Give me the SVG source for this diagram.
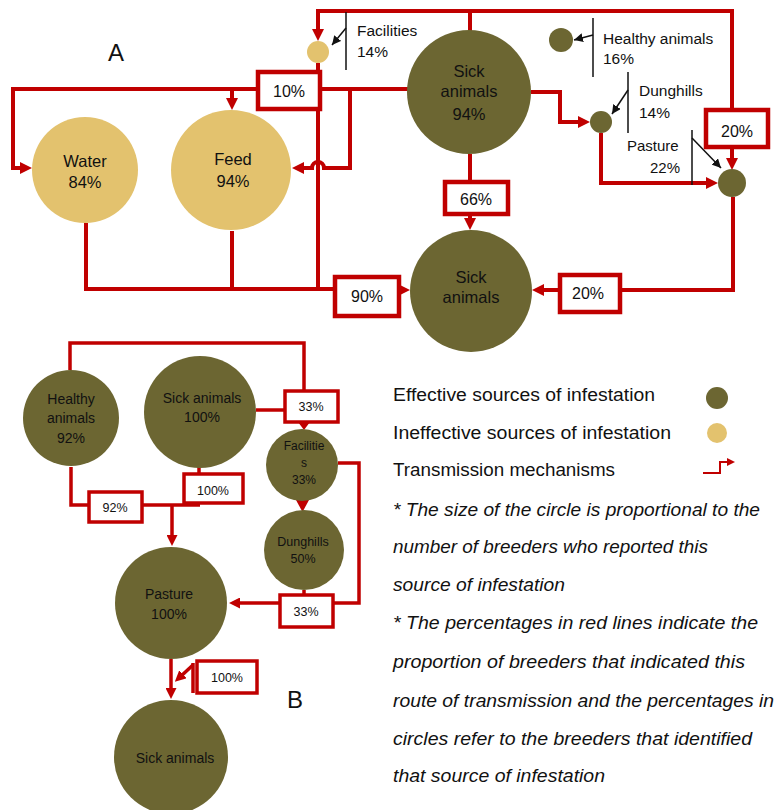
<svg xmlns="http://www.w3.org/2000/svg" width="775" height="810" viewBox="0 0 775 810">
<style>
.t{font-family:"Liberation Sans",Arial,sans-serif;fill:#111}
.c{text-anchor:middle}
.eff{fill:#6C6632}
.ine{fill:#E3C26E}
.ln{fill:none;stroke:#C00000;stroke-width:4;stroke-linejoin:miter}
.lnb{fill:none;stroke:#C00000;stroke-width:3.5}
.bx{fill:#fff;stroke:#C00000;stroke-width:4.5}
.bxb{fill:#fff;stroke:#C00000;stroke-width:3.5}
.blk{fill:none;stroke:#111;stroke-width:1.5}
.it{font-family:"Liberation Sans",Arial,sans-serif;font-style:italic;font-size:17.5px;fill:#111}
.lg{font-family:"Liberation Sans",Arial,sans-serif;font-size:17.5px;fill:#111}
</style>
<defs>
<marker id="ar" markerUnits="userSpaceOnUse" markerWidth="12" markerHeight="12" refX="4" refY="6" orient="auto"><path d="M0,0 L12,6 L0,12z" fill="#C00000"/></marker>
<marker id="arb" markerUnits="userSpaceOnUse" markerWidth="11" markerHeight="11" refX="4" refY="5.5" orient="auto"><path d="M0,0 L11,5.5 L0,11z" fill="#C00000"/></marker>
<marker id="ak" markerUnits="userSpaceOnUse" markerWidth="9" markerHeight="9" refX="9" refY="4.5" orient="auto"><path d="M0,0 L9,4.5 L0,9z" fill="#111"/></marker>
<marker id="al" markerUnits="userSpaceOnUse" markerWidth="8" markerHeight="8" refX="2" refY="4" orient="auto"><path d="M0,0 L8,4 L0,8z" fill="#C00000"/></marker>
</defs>

<text class="t" x="108" y="61" font-size="24">A</text>
<text class="t" x="287" y="708" font-size="24">B</text>

<g id="connectors">
<!-- Part A -->
<path class="ln" d="M470,31 L470,11 L318,11 L318,33" marker-end="url(#ar)"/>
<path class="ln" d="M470,11 L732,11 L732,110"/>
<path class="ln" d="M732,147 L732,162" marker-end="url(#ar)"/>
<path class="ln" d="M531,92 L560,92 L560,122 L582,122" marker-end="url(#ar)"/>
<path class="ln" d="M601,133 L601,183 L710,183" marker-end="url(#ar)"/>
<path class="ln" d="M733,197 L733,290 L620,290"/>
<path class="ln" d="M560,290 L540,290" marker-end="url(#ar)"/>
<path class="ln" d="M470,154 L470,182"/>
<path class="ln" d="M470,214 L470,222" marker-end="url(#ar)"/>
<path class="ln" d="M410,89 L320,89"/>
<path class="ln" d="M258,89 L13,89 L13,168 L24,168" marker-end="url(#ar)"/>
<path class="ln" d="M232,89 L232,102" marker-end="url(#ar)"/>
<path class="ln" d="M350,89 L350,168 L324,168 A6,6 0 0 0 312,168 L300,168" marker-end="url(#ar)"/>
<path class="ln" d="M318,63 L318,289"/>
<path class="ln" d="M86,223 L86,289 L335,289"/>
<path class="ln" d="M232,231 L232,289"/>
<path class="ln" d="M399,290 L402,290" marker-end="url(#ar)"/>
<!-- Part B -->
<path class="lnb" d="M70,370 L70,343 L304,343 L304,391"/>
<polygon points="298,422 310,422 304,430" fill="#C00000"/>
<path class="lnb" d="M256,410 L285,410"/>
<path class="lnb" d="M338,463 L359,463 L359,603 L333,603"/>
<path class="lnb" d="M280,603 L236,603" marker-end="url(#arb)"/>
<polygon points="296,500 309,500 302.5,512" fill="#C00000"/>
<path class="lnb" d="M304,590 L304,595"/>
<path class="lnb" d="M199,467 L199,474"/>
<path class="lnb" d="M71,467 L71,505 L89,505"/>
<path class="lnb" d="M142,505 L200,505"/>
<path class="lnb" d="M172,505 L172,539" marker-end="url(#arb)"/>
<path class="lnb" d="M171,659 L171,692" marker-end="url(#arb)"/>
<path class="lnb" d="M193,663 L193,693"/>
<path class="lnb" d="M193,665 L180,677" marker-end="url(#arb)"/>
</g>

<!-- black annotation lines -->
<g id="annotations">
<path class="blk" d="M346,12 L346,70"/>
<path class="blk" d="M346,28 L332,45" marker-end="url(#ak)"/>
<path class="blk" d="M593,18 L593,77"/>
<path class="blk" d="M593,35 L574,40" marker-end="url(#ak)"/>
<path class="blk" d="M628,72 L628,133"/>
<path class="blk" d="M628,90 L612,114" marker-end="url(#ak)"/>
<path class="blk" d="M692,130 L692,185"/>
<path class="blk" d="M692,138 L721,168" marker-end="url(#ak)"/>
</g>

<!-- Part A nodes -->
<g id="a-facilities">
<circle class="ine" cx="318" cy="52" r="11"/>
<text class="t" x="357" y="36" font-size="15.5">Facilities</text>
<text class="t" x="357" y="57" font-size="15.5">14%</text>
</g>
<g id="a-sick-source">
<circle class="eff" cx="469" cy="92" r="62"/>
<text class="t c" x="469" y="77" font-size="16.5">Sick</text>
<text class="t c" x="469" y="97" font-size="16.5">animals</text>
<text class="t c" x="469" y="120" font-size="16.5">94%</text>
</g>
<g id="a-healthy">
<circle class="eff" cx="561" cy="40" r="12"/>
<text class="t" x="603" y="44" font-size="15.5">Healthy animals</text>
<text class="t" x="603" y="64" font-size="15.5">16%</text>
</g>
<g id="a-dunghills">
<circle class="eff" cx="601" cy="122" r="11"/>
<text class="t" x="639" y="96" font-size="15.5">Dunghills</text>
<text class="t" x="639" y="118" font-size="15.5">14%</text>
</g>
<g id="a-pasture">
<circle class="eff" cx="732" cy="183" r="14"/>
<text class="t" x="627" y="151" font-size="15">Pasture</text>
<text class="t" x="650" y="173" font-size="15">22%</text>
</g>
<g id="a-water">
<circle class="ine" cx="85" cy="170" r="53"/>
<text class="t c" x="85" y="167" font-size="16.5">Water</text>
<text class="t c" x="85" y="188" font-size="16.5">84%</text>
</g>
<g id="a-feed">
<circle class="ine" cx="231" cy="170" r="60"/>
<text class="t c" x="233" y="165" font-size="16.5">Feed</text>
<text class="t c" x="233" y="187" font-size="16.5">94%</text>
</g>
<g id="a-sick-target">
<circle class="eff" cx="471" cy="291" r="61"/>
<text class="t c" x="471" y="283" font-size="16.5">Sick</text>
<text class="t c" x="471" y="303" font-size="16.5">animals</text>
</g>
<g id="a-box-10">
<rect class="bx" x="258" y="72" width="62" height="37"/>
<text class="t c" x="289" y="97" font-size="16">10%</text>
</g>
<g id="a-box-20top">
<rect class="bx" x="706" y="110" width="62" height="37"/>
<text class="t c" x="737" y="137" font-size="16">20%</text>
</g>
<g id="a-box-66">
<rect class="bx" x="445" y="182" width="63" height="32"/>
<text class="t c" x="476" y="205" font-size="16">66%</text>
</g>
<g id="a-box-90">
<rect class="bx" x="335" y="277" width="64" height="39"/>
<text class="t c" x="367" y="302" font-size="16">90%</text>
</g>
<g id="a-box-20bot">
<rect class="bx" x="560" y="275" width="60" height="37"/>
<text class="t c" x="588" y="299" font-size="16">20%</text>
</g>

<!-- Part B nodes -->
<g id="b-healthy">
<circle class="eff" cx="71" cy="418" r="48"/>
<text class="t c" x="71" y="404" font-size="14">Healthy</text>
<text class="t c" x="71" y="423" font-size="14">animals</text>
<text class="t c" x="71" y="443" font-size="14">92%</text>
</g>
<g id="b-sick">
<circle class="eff" cx="200" cy="412" r="56"/>
<text class="t c" x="202" y="403" font-size="14">Sick animals</text>
<text class="t c" x="202" y="422" font-size="14">100%</text>
</g>
<g id="b-facilities">
<circle class="eff" cx="302" cy="465" r="36"/>
<text class="t c" x="304" y="450" font-size="12">Facilitie</text>
<text class="t c" x="304" y="467" font-size="12">s</text>
<text class="t c" x="304" y="484" font-size="12">33%</text>
</g>
<g id="b-dunghills">
<circle class="eff" cx="304" cy="550" r="40"/>
<text class="t c" x="303" y="546" font-size="12.5">Dunghills</text>
<text class="t c" x="303" y="563" font-size="12.5">50%</text>
</g>
<g id="b-pasture">
<circle class="eff" cx="171" cy="603" r="56"/>
<text class="t c" x="169" y="599" font-size="14">Pasture</text>
<text class="t c" x="169" y="619" font-size="14">100%</text>
</g>
<g id="b-sick-target">
<circle class="eff" cx="171" cy="757" r="57"/>
<text class="t c" x="175" y="763" font-size="14">Sick animals</text>
</g>
<g id="b-box-33top">
<rect class="bxb" x="285" y="391" width="53" height="31"/>
<text class="t c" x="311" y="411" font-size="12.5">33%</text>
</g>
<g id="b-box-100a">
<rect class="bxb" x="184" y="474" width="59" height="29"/>
<text class="t c" x="213" y="495" font-size="12.5">100%</text>
</g>
<g id="b-box-92">
<rect class="bxb" x="89" y="492" width="53" height="30"/>
<text class="t c" x="115" y="512" font-size="12.5">92%</text>
</g>
<g id="b-box-33bot">
<rect class="bxb" x="280" y="595" width="53" height="32"/>
<text class="t c" x="306" y="616" font-size="12.5">33%</text>
</g>
<g id="b-box-100b">
<rect class="bxb" x="197" y="661" width="60" height="32"/>
<text class="t c" x="227" y="682" font-size="12.5">100%</text>
</g>

<!-- Legend -->
<g id="legend">
<text class="lg" x="393" y="401" textLength="262" lengthAdjust="spacingAndGlyphs">Effective sources of infestation</text>
<circle class="eff" cx="717" cy="398" r="11"/>
<text class="lg" x="393" y="439" textLength="278" lengthAdjust="spacingAndGlyphs">Ineffective sources of infestation</text>
<circle class="ine" cx="717" cy="433" r="10"/>
<text class="lg" x="393" y="476" textLength="222" lengthAdjust="spacingAndGlyphs">Transmission mechanisms</text>
<path d="M703,473 L720,473 L720,462 L729,462" fill="none" stroke="#C00000" stroke-width="2" marker-end="url(#al)"/>
</g>
<g id="notes">
<text class="it" x="393" y="516" textLength="367" lengthAdjust="spacingAndGlyphs">* The size of the circle is proportional to the</text>
<text class="it" x="393" y="553" textLength="315" lengthAdjust="spacingAndGlyphs">number of breeders who reported this</text>
<text class="it" x="393" y="591" textLength="172" lengthAdjust="spacingAndGlyphs">source of infestation</text>
<text class="it" x="393" y="629" textLength="365" lengthAdjust="spacingAndGlyphs">* The percentages in red lines indicate the</text>
<text class="it" x="393" y="668" textLength="352" lengthAdjust="spacingAndGlyphs">proportion of breeders that indicated this</text>
<text class="it" x="393" y="707" textLength="381" lengthAdjust="spacingAndGlyphs">route of transmission and the percentages in</text>
<text class="it" x="393" y="745" textLength="359" lengthAdjust="spacingAndGlyphs">circles refer to the breeders that identified</text>
<text class="it" x="393" y="782" textLength="212" lengthAdjust="spacingAndGlyphs">that source of infestation</text>
</g>
</svg>
